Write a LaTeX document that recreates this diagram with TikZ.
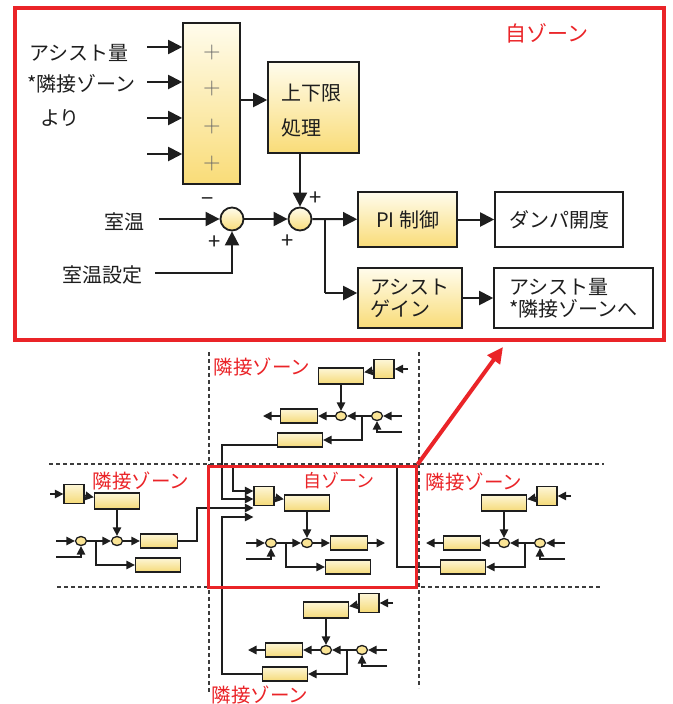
\documentclass[tikz,border=0pt]{standalone}
\usepackage{fontspec}
\setmainfont{Noto Sans CJK JP}
\usetikzlibrary{arrows.meta,shapes.geometric}
\definecolor{zred}{RGB}{234,36,40}
\definecolor{ink}{RGB}{30,30,30}
\definecolor{ytop}{RGB}{255,252,236}
\definecolor{ybot}{RGB}{249,220,120}
\definecolor{mtop}{RGB}{253,246,214}
\definecolor{mbot}{RGB}{245,218,120}
\definecolor{dashc}{RGB}{60,60,60}
\tikzset{
 bigbox/.style={draw=ink, line width=1.6pt, top color=ytop, bottom color=ybot, inner sep=0pt},
 whitebox/.style={draw=ink, line width=1.6pt, fill=white, inner sep=0pt},
 sumc/.style={circle, draw=ink, line width=1.8pt, top color=ytop, bottom color=ybot, minimum size=23pt, inner sep=0pt},
 arr/.style={draw=ink, line width=2pt, -{Triangle[length=14pt,width=14pt]}},
 ln/.style={draw=ink, line width=2pt},
 txt/.style={font=\fontsize{20}{22}\selectfont, text=ink, inner sep=0pt},
 sgn/.style={font=\fontsize{22}{22}\selectfont, text=ink, inner sep=0pt},
 plussign/.style={font=\sffamily\fontsize{24}{24}\selectfont, text=black!60, inner sep=0pt},
 mbox/.style={draw=ink, line width=1.3pt, top color=mtop, bottom color=mbot, inner sep=0pt},
 mcirc/.style={ellipse, draw=ink, line width=1.3pt, fill=ybot!75!ytop, minimum width=11pt, minimum height=9pt, inner sep=0pt},
 marr/.style={draw=ink, line width=1.4pt, -{Triangle[length=8.5pt,width=8.5pt]}},
 mln/.style={draw=ink, line width=1.4pt},
 zlabel/.style={font=\fontsize{19.5}{20}\selectfont, text=zred, inner sep=0pt},
 dashline/.style={draw=dashc, line width=1.3pt, dash pattern=on 4pt off 3pt},
}
\newcommand{\minizone}[4]{%
\begin{scope}[shift={(#2,#3)}, xscale=#4]
 \node[mbox, minimum width=20pt, minimum height=19pt] (#1S) at (-43,-47) {};
 \node[mbox, minimum width=45pt, minimum height=16pt] (#1L) at (0,-40) {};
 \node[mcirc] (#1c1) at (-36,0) {};
 \node[mcirc] (#1c2) at (0,0) {};
 \node[mbox, minimum width=37pt, minimum height=14pt] (#1P) at (42,0) {};
 \node[mbox, minimum width=45pt, minimum height=14pt] (#1G) at (41,24) {};
 \coordinate (#1in) at (-61,0);
 \coordinate (#1in2) at (-61,16);
 \coordinate (#1br) at (-21,0);
 \coordinate (#1sin) at (-67,-47);
 \coordinate (#1out) at (78,0);
 \draw[marr] (#1S) -- (#1L);
 \draw[marr] (#1L) -- (#1c2);
 \draw[marr] (#1in) -- (#1c1);
 \draw[marr] (#1in2) -| (#1c1);
 \draw[marr] (#1c1) -- (#1c2);
 \draw[marr] (#1c2) -- (#1P);
 \draw[marr] (#1br) |- (#1G);
\end{scope}}
\begin{document}
\begin{tikzpicture}[x=1pt,y=-1pt]
\useasboundingbox (0,0) rectangle (672,704);
% ===== top detailed diagram =====
\node[draw=zred, line width=4pt, minimum width=649pt, minimum height=332pt, inner sep=0pt] (frame) at (339.5,174) {};
\node[font=\fontsize{21}{21}\selectfont, text=zred, inner sep=0pt] (selfbig) at (547,33) {自ゾーン};

\node[bigbox, minimum width=57pt, minimum height=161pt] (sum) at (211.5,103.5) {};
\node[plussign] (p1) at (212,53) {+};
\node[plussign] (p2) at (212,89) {+};
\node[plussign] (p3) at (212,127) {+};
\node[plussign] (p4) at (212,164) {+};
\coordinate (i1) at (147,47);
\coordinate (i2) at (147,82);
\coordinate (i3) at (147,118);
\coordinate (i4) at (147,154);
\draw[arr] (i1) -- (i1 -| sum.west);
\draw[arr] (i2) -- (i2 -| sum.west);
\draw[arr] (i3) -- (i3 -| sum.west);
\draw[arr] (i4) -- (i4 -| sum.west);
\node[txt, anchor=west] (lb1) at (29,53) {アシスト量};
\node[txt, anchor=west] (lb2) at (27,84) {*隣接ゾーン};
\node[txt, anchor=west] (lb3) at (40,118) {より};

\node[bigbox, minimum width=91pt, minimum height=91pt] (lim) at (313.5,107.5) {};
\node[txt, anchor=west] (limt1) at (281,93) {上下限};
\node[txt, anchor=west] (limt2) at (281,128) {処理};
\coordinate (sumo) at (240,100);
\draw[arr] (sumo) -- (sumo -| lim.west);

\node[sumc] (c1) at (232,219) {};
\node[sumc] (c2) at (300,219) {};
\draw[arr] (c2 |- lim.south) -- (c2);
\node[txt, anchor=east] (rt) at (145,222) {室温};
\coordinate (rti) at (159,219);
\draw[arr] (rti) -- (c1);
\node[txt, anchor=east] (rts) at (143,275) {室温設定};
\coordinate (rtsi) at (155,273);
\draw[arr] (rtsi) -| (c1);
\draw[arr] (c1) -- (c2);
\node[sgn] (s1) at (208,202) {−};
\node[sgn] (s2) at (215,243) {+};
\node[sgn] (s3) at (316,199) {+};
\node[sgn] (s4) at (288,242) {+};

\node[bigbox, txt, minimum width=99pt, minimum height=55pt] (pi) at (407.5,219.5) {PI 制御};
\node[whitebox, txt, minimum width=128pt, minimum height=55pt] (dmp) at (559,219.5) {ダンパ開度};
\draw[arr] (c2) -- (pi);
\draw[arr] (pi) -- (dmp);
\node[bigbox, txt, align=left, minimum width=104pt, minimum height=60pt] (gain) at (410,298) {アシスト\\ゲイン};
\node[whitebox, txt, align=left, minimum width=159pt, minimum height=60pt] (ast) at (573.5,298) {アシスト量\\*隣接ゾーンへ};
\coordinate (brm) at (325,219);
\coordinate (brm2) at (325,293);
\draw[ln] (brm) -- (brm2);
\draw[arr] (brm2) -- (brm2 -| gain.west);
\draw[arr] (gain) -- (ast);

% ===== bottom overview =====
\draw[dashline] (209,352) -- (209,693);
\draw[dashline] (419,352) -- (419,688);
\draw[dashline] (49,464) -- (604,464);
\draw[dashline] (57,587) -- (601,587);

\minizone{t}{341}{416}{-1}
\minizone{l}{117}{541}{1}
\minizone{s}{307}{543}{1}
\minizone{r}{504}{543}{-1}
\minizone{b}{326}{650}{-1}

\draw[marr] (tsin) -- (tS);
\draw[marr] (lsin) -- (lS);
\draw[marr] (rsin) -- (rS);
\draw[marr] (bsin) -- (bS);
\draw[marr] (tP) -- (tout);
\draw[marr] (sP) -- (sout);
\draw[marr] (rP) -- (rout);
\draw[marr] (bP) -- (bout);

% feeds into own zone
\coordinate (f1) at (233,491);
\coordinate (f2) at (222,499);
\coordinate (f3) at (197,508);
\coordinate (f4) at (222,517);
\draw[marr] (rG.west) -- (397,567) -- (397,466) -- (233,466) -- (f1) -- (f1 -| sS.west);
\draw[marr] ([yshift=-5pt]tG.west) -| (f2) -- (f2 -| sS.west);
\draw[marr] (lP.east) -| (f3) -- (f3 -| sS.west);
\draw[marr] (bG.west) -| (f4) -- (f4 -| sS.west);

\node[draw=zred, line width=3pt, minimum width=208pt, minimum height=121pt, inner sep=0pt] (selfbox) at (312,526.5) {};
\coordinate (tip) at (503,347);
\draw[zred, line width=4pt, -{Triangle[length=16pt,width=15pt]}] (selfbox.north east) -- (tip);

\node[zlabel] (zt) at (262,367) {隣接ゾーン};
\node[zlabel] (zl) at (141,481) {隣接ゾーン};
\node[zlabel] (zr) at (474,482) {隣接ゾーン};
\node[zlabel] (zb) at (260,695) {隣接ゾーン};
\node[font=\fontsize{18}{18}\selectfont, text=zred, inner sep=0pt] (zs) at (339,481) {自ゾーン};
\end{tikzpicture}
\end{document}
